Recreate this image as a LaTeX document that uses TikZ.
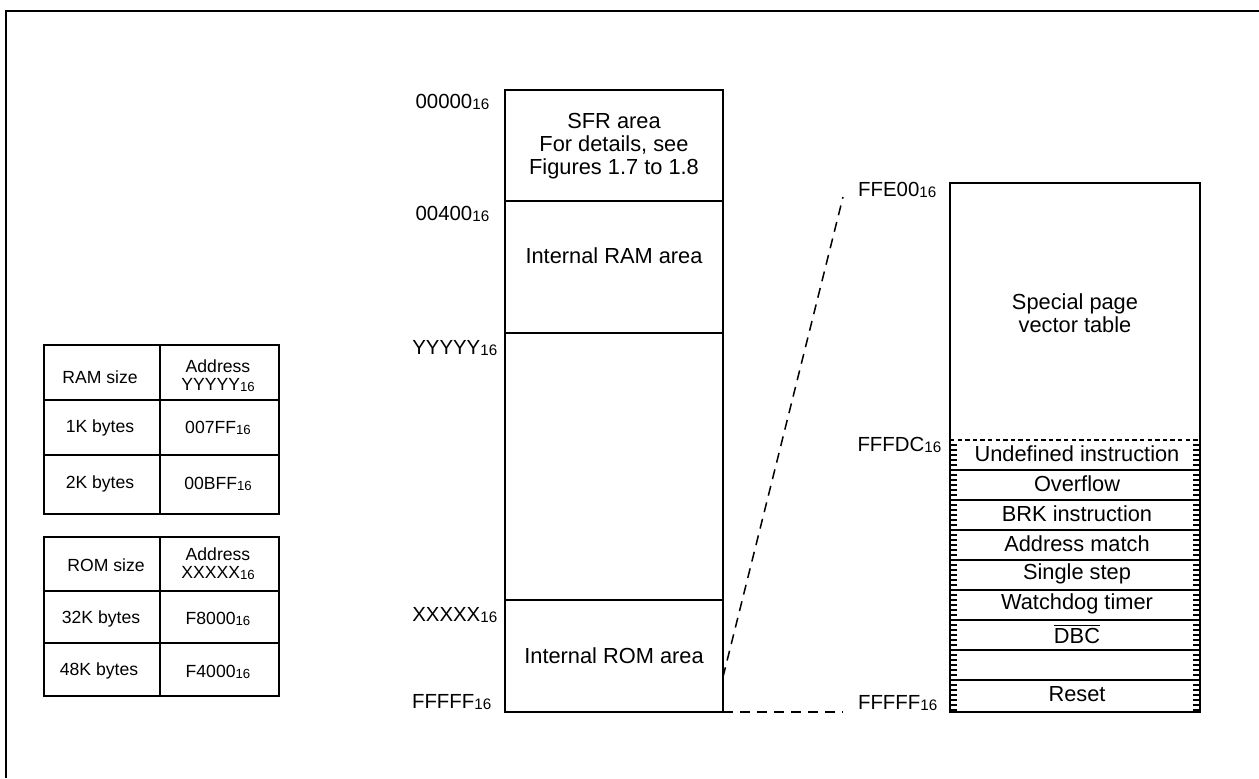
\documentclass[tikz,border=0pt]{standalone}
\usepackage{fontspec}
\setmainfont{Liberation Sans}

\newcommand{\adr}[1]{#1\raisebox{-0.1ex}{\fontsize{7.6}{8}\selectfont 16}}
\newcommand{\tadr}[1]{#1\raisebox{-0.1ex}{\fontsize{6.6}{7}\selectfont 16}}

\begin{document}
\begin{tikzpicture}[x=0.5pt,y=-0.5pt,line width=0.75pt,
  font=\fontsize{10.9}{11.6}\selectfont,
  addr/.style={anchor=east,inner sep=0pt,font=\fontsize{10.2}{11}\selectfont},
  tab/.style={font=\fontsize{8.8}{8.9}\selectfont,align=center,inner sep=0pt},
  link/.style={dash pattern=on 5pt off 3.5pt}]
  \useasboundingbox (0,0) rectangle (1259,778);
  \draw[line width=1.1pt] (6,778) -- (6,11) -- (1259,11);

  % memory map
  \coordinate (mapTL) at (505,90);
  \coordinate (mapBR) at (723,712);
  \coordinate (romEdge) at (723,677);
  \draw (mapTL) rectangle (mapBR);
  \draw (505,201) -- (723,201);
  \draw (505,333) -- (723,333);
  \draw (505,600) -- (723,600);

  \node[align=center] (sfr) at (614,146) {SFR area\\For details, see\\Figures 1.7 to 1.8};
  \node (ram) at (614,256) {Internal RAM area};
  \node (rom) at (614,656) {Internal ROM area};

  \node[addr] (a0) at (490,102) {\adr{00000}};
  \node[addr] (a1) at (490,214) {\adr{00400}};
  \node[addr] (a2) at (498,348) {\adr{YYYYY}};
  \node[addr] (a3) at (498,615) {\adr{XXXXX}};
  \node[addr] (a4) at (492,702) {\adr{FFFFF}};

  % vector table
  \coordinate (vecTL) at (950,183);
  \coordinate (vecBR) at (1200,712);
  \draw (vecTL) rectangle (vecBR);
  \draw[line width=0.7pt,dash pattern=on 2.2pt off 1.6pt] (950,440) -- (1200,440);
  \foreach \y in {470,500,...,680}
    \draw (950,\y) -- (1200,\y);
  \foreach \y in {445,450,...,710} {
    \draw[line width=0.7pt] (950,\y) -- ++(7,0);
    \draw[line width=0.7pt] (1200,\y) -- ++(-7,0);
  }
  \node[align=center] (spv) at (1075,313) {Special page\\vector table};
  \foreach \t [count=\i] in {Undefined instruction,Overflow,BRK instruction,
      Address match,Single step,Watchdog timer,$\overline{\mbox{DBC}}$,{},Reset}
    \node (v\i) at (1077,424+30*\i) {\t};

  \node[addr] (b0) at (937,190) {\adr{FFE00}};
  \node[addr] (b1) at (942,445) {\adr{FFFDC}};
  \node[addr] (b2) at (938,703) {\adr{FFFFF}};

  \coordinate (vecTop) at (843,197);
  \coordinate (vecBot) at (843,712);
  \draw[link] (romEdge) -- (vecTop);
  \draw[link] (mapBR) -- (vecBot);

  % RAM size table
  \draw (44,345) rectangle (279,514);
  \draw (160,345) -- (160,514);
  \draw (44,400) -- (279,400);
  \draw (44,455) -- (279,455);
  \node[tab] (ramH) at (100,377) {RAM size};
  \node[tab] (ramA) at (218,376) {Address\\\tadr{YYYYY}};
  \node[tab] (ram1) at (100,428) {1K bytes};
  \node[tab] (ram1a) at (218,428) {\tadr{007FF}};
  \node[tab] (ram2) at (100,484) {2K bytes};
  \node[tab] (ram2a) at (218,484) {\tadr{00BFF}};

  % ROM size table
  \draw (44,537) rectangle (279,696);
  \draw (160,537) -- (160,696);
  \draw (44,591) -- (279,591);
  \draw (44,643) -- (279,643);
  \node[tab] (romH) at (106,565) {ROM size};
  \node[tab] (romA) at (218,564) {Address\\\tadr{XXXXX}};
  \node[tab] (rom1) at (101,619) {32K bytes};
  \node[tab] (rom1a) at (218,619) {\tadr{F8000}};
  \node[tab] (rom2) at (99,671) {48K bytes};
  \node[tab] (rom2a) at (218,672) {\tadr{F4000}};
\end{tikzpicture}
\end{document}
